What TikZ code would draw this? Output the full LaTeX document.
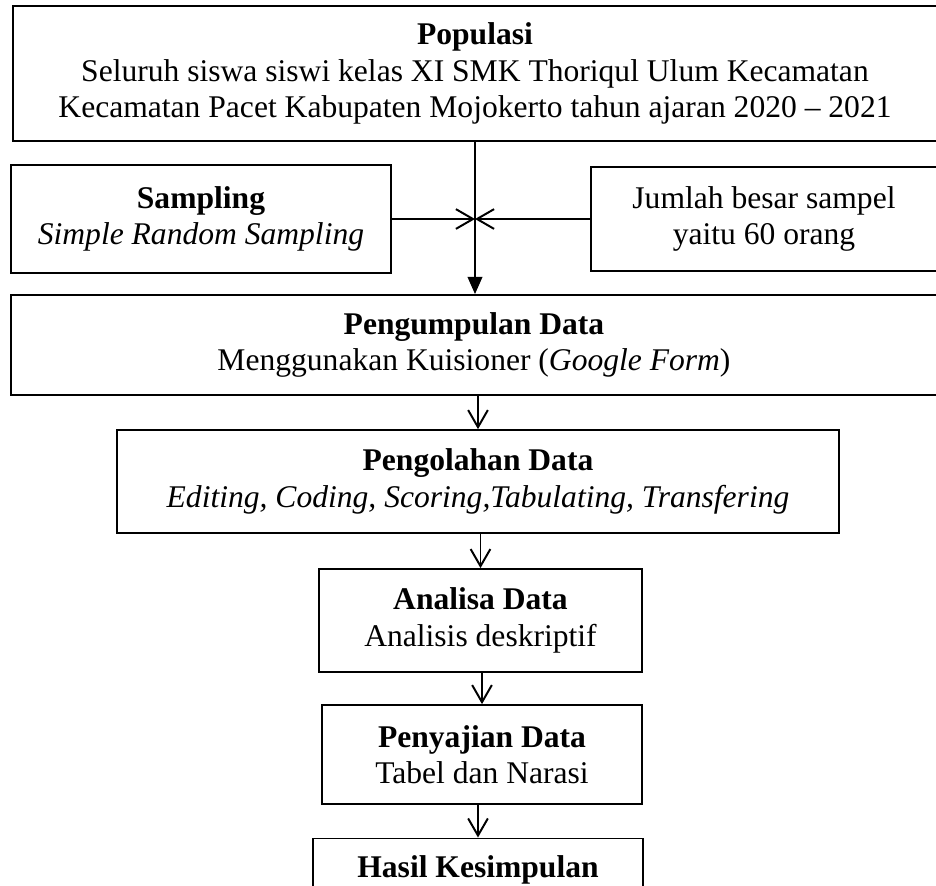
\documentclass[tikz,border=0pt]{standalone}
\usepackage{fontspec}
\setmainfont{Liberation Serif}
\usetikzlibrary{arrows.meta, positioning, calc}

\begin{document}
\begin{tikzpicture}[x=0.38pt, y=-0.38pt,
  box/.style={rectangle, draw=black, line width=0.7pt, fill=white,
              align=center, inner sep=0pt, font=\fontsize{12}{13.8}\selectfont},
  bigbox/.style={box, line width=0.95pt},
  arr/.style={-{Straight Barb[length=6.5pt, width=7.5pt, line width=0.75pt]}, line width=0.75pt},
  farr/.style={-{Triangle[length=6.5pt, width=5.5pt]}, line width=0.8pt}]

  \useasboundingbox (0,0) rectangle (936,886);

  \node[bigbox, minimum width=351.1pt, minimum height=51.3pt] at (475, 73.5) (pop)
    {\textbf{Populasi}\\
     Seluruh siswa siswi kelas XI SMK Thoriqul Ulum Kecamatan\\
     Kecamatan Pacet Kabupaten Mojokerto tahun ajaran 2020 -- 2021};

  \node[box, minimum width=144.4pt, minimum height=41pt] at (201, 219) (samp)
    {\textbf{Sampling}\\\textit{Simple Random Sampling}};

  \node[box, minimum width=131.5pt, minimum height=39.5pt] at (764, 219) (jml)
    {Jumlah besar sampel\\yaitu 60 orang};

  \node[box, minimum width=351.9pt, minimum height=38pt] at (474, 345) (kumpul)
    {\textbf{Pengumpulan Data}\\Menggunakan Kuisioner (\textit{Google Form})};

  \node[box, minimum width=274.4pt, minimum height=39.1pt] at (478, 481.5) (olah)
    {\textbf{Pengolahan Data}\\\textit{Editing, Coding, Scoring,Tabulating, Transfering}};

  \node[box, minimum width=122.7pt, minimum height=39.1pt] at (480.5, 620.5) (analisa)
    {\textbf{Analisa Data}\\Analisis deskriptif};

  \node[box, minimum width=121.6pt, minimum height=37.6pt] at (482, 754.5) (saji)
    {\textbf{Penyajian Data}\\Tabel dan Narasi};

  \node[box, minimum width=125.4pt, minimum height=24pt] at (478, 870) (hasil)
    {\textbf{Hasil Kesimpulan}};

  \coordinate (temu) at (475, 222);

  \draw[farr] (pop.south -| temu) -- (kumpul.north -| temu);
  \draw[arr] (samp.east) -- (samp.east -| temu);
  \draw[arr] (jml.west)  -- (jml.west -| temu);
  \draw[arr] (kumpul.south -| olah) -- (olah.north);
  \draw[arr] (olah.south -| analisa) -- (analisa.north);
  \draw[arr] (analisa.south -| saji) -- (saji.north);
  \draw[arr] (saji.south -| hasil) -- (hasil.north);

\end{tikzpicture}
\end{document}
